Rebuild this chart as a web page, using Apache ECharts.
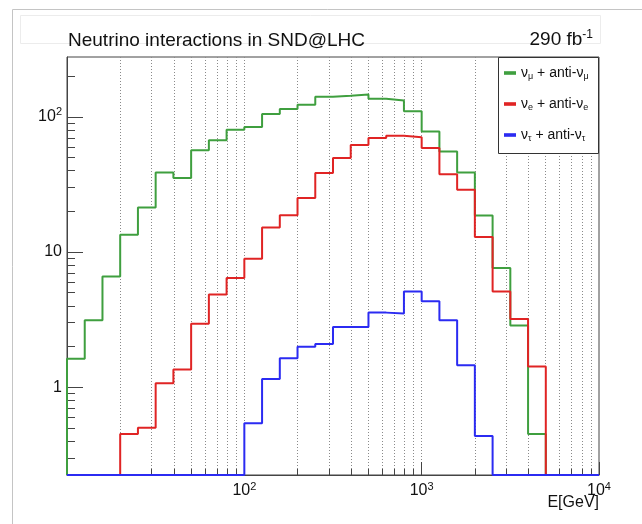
<!DOCTYPE html>
<html><head><meta charset="utf-8">
<script src="https://cdn.jsdelivr.net/npm/echarts@6/dist/echarts.min.js"></script>
<style>html,body{margin:0;padding:0;background:#fff}#c{width:642px;height:524px}</style>
</head><body><div id="c"></div>
<script>
// histogram bin edges (GeV), 10 bins per decade
const binEdges = [10, 12.59, 15.85, 19.95, 25.12, 31.62, 39.81, 50.12, 63.10, 79.43,
  100, 125.9, 158.5, 199.5, 251.2, 316.2, 398.1, 501.2, 631.0, 794.3,
  1000, 1259, 1585, 1995, 2512, 3162, 3981, 5012, 6310, 7943, 10000];
// counts per bin
const numuCounts = [1.62, 3.13, 6.6, 13.4, 21.3, 38.8, 35.3, 56.5, 67, 80.3,
  84, 105, 114, 123, 141, 143, 146, 136, 132, 110,
  78, 55.5, 38.8, 18.6, 7.6, 2.86, 0.45, 0, 0, 0];
const nueCounts = [0, 0, 0, 0.45, 0.5, 1.07, 1.35, 2.94, 4.85, 6.43,
  8.93, 15.2, 18.7, 25.1, 38.4, 49.6, 62, 69.7, 72.5, 70.6,
  58.8, 37.6, 28.9, 12.9, 5.1, 3.2, 1.42, 0, 0, 0];
const nutauCounts = [0, 0, 0, 0, 0, 0, 0, 0, 0, 0,
  0.54, 1.15, 1.64, 1.99, 2.09, 2.79, 2.79, 3.56, 3.5, 5.1,
  4.32, 3.13, 1.45, 0.435, 0, 0, 0, 0, 0, 0];
// axis ticks
const xMajorTicks = [100, 1000, 10000];
const xMinorTicks = [20, 30, 40, 50, 60, 70, 80, 90, 100, 200, 300, 400, 500, 600, 700, 800, 900,
  1000, 2000, 3000, 4000, 5000, 6000, 7000, 8000, 9000];
const yMajorTicks = [1, 10, 100];
const yMinorTicks = [0.3, 0.4, 0.5, 0.6, 0.7, 0.8, 0.9, 2, 3, 4, 5, 6, 7, 8, 9,
  20, 30, 40, 50, 60, 70, 80, 90, 200];
const seriesNames = ['numu', 'nue', 'nutau'];
const legendLabels = {
  numu: '{n|\u03bd}{s|\u03bc}{n| + anti-\u03bd}{s|\u03bc}',
  nue: '{n|\u03bd}{s|e}{n| + anti-\u03bd}{s|e}',
  nutau: '{n|\u03bd}{s|\u03c4}{n| + anti-\u03bd}{s|\u03c4}'
};
const titleText = 'Neutrino interactions in SND@LHC';
const lumiText = '{a|290 fb}{s|-1}';
const xName = 'E[GeV]';

const Y_MIN = 0.224, Y_MAX = 277;
const FONT = '"Liberation Sans", Arial, Helvetica, sans-serif';
const colors = ['#3f9f3f', '#e02424', '#2b2bf2'];

function steps(counts) {
  const v = counts.map(c => c > 0 ? c : Y_MIN);
  const pts = [[binEdges[0], Y_MIN]];
  for (let i = 0; i < v.length; i++) pts.push([binEdges[i], v[i]]);
  pts.push([binEdges[v.length], v[v.length - 1]]);
  pts.push([binEdges[v.length], Y_MIN]);
  return pts;
}
function powLabel(v) {
  const e = Math.round(Math.log10(v));
  if (e === 0) return '{b|1}';
  if (e === 1) return '{b|10}';
  return '{b|10}{s|' + e + '}';
}
const labelRich = {
  b: { fontSize: 16, color: '#111', fontFamily: FONT },
  s: { fontSize: 11, color: '#111', fontFamily: FONT, padding: [0, 0, 9, 0] }
};
const allCounts = [numuCounts, nueCounts, nutauCounts];

const chart = echarts.init(document.getElementById('c'), null, { renderer: 'canvas' });
chart.setOption({
  animation: false,
  backgroundColor: '#fff',
  textStyle: { fontFamily: FONT },
  title: [
    { text: titleText, left: 63, top: 26, textStyle: { fontSize: 19, fontWeight: 'normal', color: '#111', fontFamily: FONT } },
    { text: lumiText, right: 44, top: 24, textStyle: { fontWeight: 'normal', rich: {
      a: { fontSize: 19, fontWeight: 'normal', color: '#111', fontFamily: FONT },
      s: { fontSize: 12, fontWeight: 'normal', color: '#111', fontFamily: FONT, padding: [0, 0, 10, 0] } } } }
  ],
  grid: { left: 67, right: 43, top: 57, bottom: 49, show: true, borderColor: '#444', borderWidth: 1, backgroundColor: 'transparent' },
  xAxis: [
    { type: 'log', min: 10, max: 10000, position: 'bottom', gridIndex: 0,
      axisLine: { show: true, lineStyle: { color: '#444' } },
      axisTick: { show: true, inside: true, length: 6, customValues: xMinorTicks, lineStyle: { color: '#444' } },
      axisLabel: { show: false },
      splitLine: { show: true, lineStyle: { color: '#8a8a8a', type: [1, 2], width: 1 } },
      name: xName, nameLocation: 'end', nameGap: 0,
      nameTextStyle: { fontSize: 16, color: '#111', align: 'right', verticalAlign: 'top', padding: [20, 0, 0, 0], fontFamily: FONT }
    },
    { type: 'log', min: 10, max: 10000, position: 'bottom', gridIndex: 0,
      axisLine: { show: false },
      axisTick: { show: true, inside: true, length: 13, customValues: xMajorTicks, lineStyle: { color: '#444' } },
      axisLabel: { show: true, customValues: xMajorTicks, margin: 6, formatter: powLabel, rich: labelRich },
      splitLine: { show: false }
    }
  ],
  yAxis: [
    { type: 'log', min: Y_MIN, max: Y_MAX, position: 'left', gridIndex: 0,
      axisLine: { show: true, lineStyle: { color: '#444' } },
      axisTick: { show: true, inside: true, length: 16, customValues: yMajorTicks, lineStyle: { color: '#444' } },
      axisLabel: { show: true, customValues: yMajorTicks, margin: 5, formatter: powLabel, rich: labelRich },
      splitLine: { show: false }
    },
    { type: 'log', min: Y_MIN, max: Y_MAX, position: 'left', gridIndex: 0,
      axisLine: { show: false },
      axisTick: { show: true, inside: true, length: 8, customValues: yMinorTicks, lineStyle: { color: '#444' } },
      axisLabel: { show: false },
      splitLine: { show: false }
    }
  ],
  legend: {
    orient: 'vertical', left: 502, top: 64, z: 20,
    data: seriesNames,
    icon: 'path://M0,0H10V3H0Z', itemWidth: 12, itemHeight: 14, itemGap: 16,
    padding: [2, 2, 2, 2],
    formatter: name => legendLabels[name],
    textStyle: { rich: {
      n: { fontSize: 14, color: '#111', fontFamily: FONT },
      s: { fontSize: 9, color: '#111', fontFamily: FONT, padding: [7, 0, 0, 0] } } }
  },
  graphic: [
    { type: 'line', shape: { x1: 12.5, y1: 9.5, x2: 642, y2: 9.5 }, style: { stroke: '#c4c4c4', lineWidth: 1 }, z: 1 },
    { type: 'line', shape: { x1: 12.5, y1: 9.5, x2: 12.5, y2: 524 }, style: { stroke: '#c4c4c4', lineWidth: 1 }, z: 1 },
    { type: 'rect', shape: { x: 20.5, y: 15.5, width: 580, height: 28 }, style: { fill: 'none', stroke: '#ececec', lineWidth: 1 }, z: 0 },
    { type: 'rect', shape: { x: 498.5, y: 57.5, width: 100, height: 96 }, style: { fill: '#fff', stroke: '#333', lineWidth: 1 }, z: 15 }
  ],
  series: seriesNames.map((n, i) => ({
    name: n, type: 'line', step: 'end', xAxisIndex: 0, yAxisIndex: 0,
    data: steps(allCounts[i]), showSymbol: false, symbol: 'none', clip: false,
    color: colors[i], lineStyle: { color: colors[i], width: 2 },
    emphasis: { disabled: true }, z: 3 + i
  }))
});
</script></body></html>
